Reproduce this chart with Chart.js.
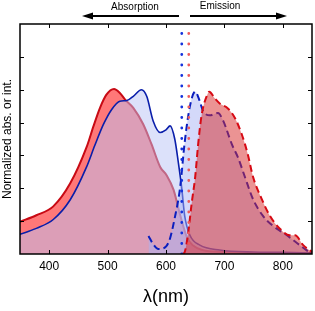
<!DOCTYPE html>
<html>
<head>
<meta charset="utf-8">
<script src="https://cdn.jsdelivr.net/npm/chart.js@4"></script>
<style>
  html, body { margin: 0; padding: 0; background: #fff; }
  #wrap { width: 315px; height: 311px; position: relative; }
</style>
</head>
<body>
<div id="wrap"><canvas id="c" width="315" height="311"></canvas></div>
<script>
// ---- data (wavelength in nm, normalized intensity) ----
const redAbsX  = [350, 378, 407, 436, 464, 476, 487, 498, 511, 521, 530, 544, 561, 575, 590, 601, 613, 624, 636, 647, 662, 700, 760, 850];
const redAbsY  = [0.98, 1.18, 1.45, 2.15, 3.25, 3.9, 4.45, 4.85, 5.02, 4.9, 4.7, 4.45, 3.95, 3.35, 2.65, 2.4, 1.95, 1.2, 0.5, 0.25, 0.12, 0.06, 0.03, 0.02];

const blueAbsX = [350, 378, 407, 436, 464, 478, 493, 507, 521, 533, 544, 558, 567, 578, 590, 600, 607, 615, 621, 627, 632, 641, 658, 692, 749, 800, 850];
const blueAbsY = [0.6, 0.78, 1.05, 1.65, 2.65, 3.3, 3.95, 4.4, 4.65, 4.67, 4.8, 5.0, 4.8, 4.05, 3.7, 3.78, 3.9, 3.5, 2.8, 2.0, 1.16, 0.57, 0.27, 0.12, 0.06, 0.05, 0.03];

const blueEmX  = [570, 578, 587, 601, 607, 615, 624, 632, 641, 650, 658, 663, 675, 689, 698, 713, 723, 735, 749, 766, 783, 807, 829, 847];
const blueEmY  = [0.55, 0.3, 0.15, 0.25, 0.48, 1.1, 2.0, 3.4, 4.5, 4.94, 4.64, 4.37, 4.22, 4.29, 4.05, 3.33, 2.95, 2.35, 1.67, 1.16, 0.86, 0.57, 0.27, 0.03];

const redEmX   = [628, 632, 638, 644, 650, 655, 661, 670, 674, 684, 692, 706, 718, 730, 740, 749, 764, 778, 795, 812, 821, 835, 850];
const redEmY   = [0, 0.06, 0.65, 1.55, 2.35, 3.33, 4.23, 4.82, 4.94, 4.73, 4.58, 4.43, 4.14, 3.63, 3.04, 2.35, 1.67, 1.16, 0.77, 0.57, 0.57, 0.27, 0.06];

const blueMarker = 627;   // nm, dotted line
const redMarker  = 639;   // nm, dotted line

const xTickLabels = [400, 500, 600, 700, 800];
const yTickValues = [1, 2, 3, 4, 5, 6];
const xRange = [350, 850];
const yRange = [0, 7];

const labels = { abs: 'Absorption', em: 'Emission', xTitle: 'λ(nm)', yTitle: 'Normalized abs. or int.' };

// ---- build ----
const zip = (xs, ys) => xs.map((x, i) => ({ x: x, y: ys[i] }));
const FONT = '"Liberation Sans", Arial, Helvetica, sans-serif';

const decor = {
  id: 'decor',
  afterDraw(chart) {
    const { ctx, chartArea: a, scales: { x, y } } = chart;
    ctx.save();
    ctx.strokeStyle = '#000';
    ctx.lineWidth = 1;
    const seg = (x1, y1, x2, y2) => { ctx.beginPath(); ctx.moveTo(x1, y1); ctx.lineTo(x2, y2); ctx.stroke(); };
    xTickLabels.forEach(v => {
      const px = Math.round(x.getPixelForValue(v)) + 0.5;
      seg(px, a.bottom, px, a.bottom - 4);
      seg(px, a.top, px, a.top + 4);
    });
    yTickValues.forEach(v => {
      const py = Math.round(y.getPixelForValue(v)) + 0.5;
      seg(a.left, py, a.left + 4, py);
      seg(a.right, py, a.right - 4, py);
    });
    ctx.lineWidth = 1.5;
    ctx.strokeRect(a.left, a.top, a.right - a.left, a.bottom - a.top);

    // y title
    ctx.fillStyle = '#000';
    ctx.font = '12px ' + FONT;
    ctx.textAlign = 'center';
    ctx.textBaseline = 'middle';
    ctx.save();
    ctx.translate(8, (a.top + a.bottom) / 2);
    ctx.rotate(-Math.PI / 2);
    ctx.fillText(labels.yTitle, 0, 0);
    ctx.restore();

    // arrows
    ctx.font = '10px ' + FONT;
    ctx.fillText(labels.abs, 135, 7);
    ctx.fillText(labels.em, 220, 6);
    const arrow = (x1, x2, yy) => {
      const dir = Math.sign(x2 - x1);
      ctx.lineWidth = 2;
      seg(x1, yy, x2 - dir * 8, yy);
      ctx.beginPath();
      ctx.moveTo(x2, yy);
      ctx.lineTo(x2 - dir * 11, yy - 3.5);
      ctx.lineTo(x2 - dir * 11, yy + 3.5);
      ctx.closePath();
      ctx.fill();
    };
    arrow(179, 82, 16);
    arrow(190, 287, 16);
    ctx.restore();
  }
};

const vline = (v) => [{ x: v, y: yRange[0] }, { x: v, y: yRange[1] }];

new Chart(document.getElementById('c'), {
  type: 'line',
  data: {
    datasets: [
      { data: vline(blueMarker), borderColor: 'rgb(20,50,220)', borderWidth: 2.8, borderDash: [0, 10.5], borderCapStyle: 'round', fill: false, order: 1, pointRadius: 0 },
      { data: vline(redMarker), borderColor: 'rgb(240,90,90)', borderWidth: 2.8, borderDash: [0, 10.5], borderCapStyle: 'round', fill: false, order: 2, pointRadius: 0 },
      { data: zip(redEmX, redEmY), borderColor: 'rgb(215,10,20)', borderWidth: 2, borderDash: [7, 4], fill: 'origin', backgroundColor: 'rgba(215,40,40,0.5)', order: 3, pointRadius: 0, cubicInterpolationMode: 'monotone' },
      { data: zip(blueEmX, blueEmY), borderColor: 'rgb(10,30,190)', borderWidth: 2, borderDash: [7, 4], fill: 'origin', backgroundColor: 'rgba(170,180,245,0.5)', order: 4, pointRadius: 0, cubicInterpolationMode: 'monotone' },
      { data: zip(blueAbsX, blueAbsY), borderColor: 'rgb(10,30,170)', borderWidth: 1.6, fill: 'origin', backgroundColor: 'rgba(185,195,245,0.5)', order: 5, pointRadius: 0, cubicInterpolationMode: 'monotone' },
      { data: zip(redAbsX, redAbsY), borderColor: 'rgb(200,10,20)', borderWidth: 2, fill: 'origin', backgroundColor: 'rgba(255,30,30,0.6)', order: 6, pointRadius: 0, cubicInterpolationMode: 'monotone' }
    ]
  },
  options: {
    responsive: false,
    animation: false,
    events: [],
    layout: { padding: { left: 20, right: 3, top: 24, bottom: 3 } },
    plugins: { legend: { display: false }, tooltip: { enabled: false } },
    scales: {
      x: {
        type: 'linear', min: xRange[0], max: xRange[1],
        grid: { display: false, drawTicks: false },
        border: { display: false },
        afterBuildTicks: (s) => { s.ticks = xTickLabels.map(v => ({ value: v })); },
        ticks: { padding: 5, color: '#000', font: { family: FONT, size: 12 }, maxRotation: 0, autoSkip: false },
        title: { display: true, text: labels.xTitle, color: '#000', font: { family: FONT, size: 18 }, padding: { top: 8, bottom: 0 } }
      },
      y: {
        display: false, min: yRange[0], max: yRange[1]
      }
    }
  },
  plugins: [decor]
});
</script>
</body>
</html>
